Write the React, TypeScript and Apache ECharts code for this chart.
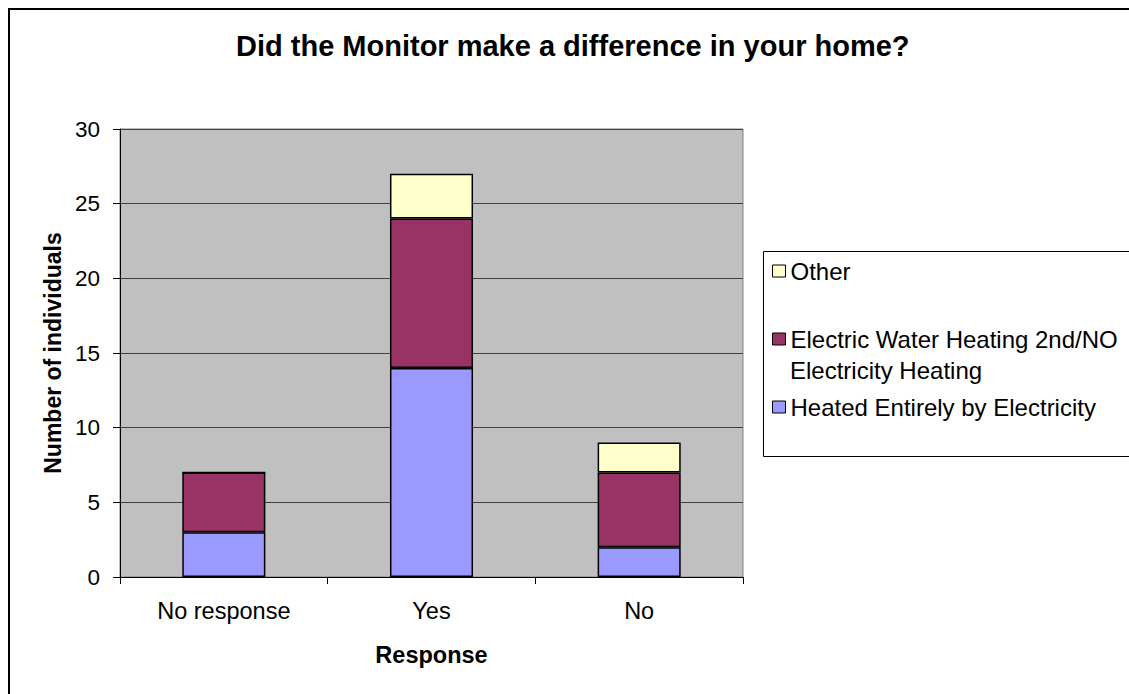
import React, { useEffect, useRef } from "react";
import * as echarts from "echarts";

const categories = ["No response", "Yes", "No"];
const heatedEntirely = [3, 14, 2];
const electricWater = [4, 10, 5];
const other = [0, 3, 2];
const seriesNames = [
  "Heated Entirely by Electricity",
  "Electric Water Heating 2nd/NO Electricity Heating",
  "Other",
];
const seriesColors = ["#9999FF", "#993366", "#FFFFCC"];
const titleText = "Did the Monitor make a difference in your home?";
const yAxisName = "Number of individuals";
const xAxisName = "Response";

const FONT = "'Liberation Sans', Arial, sans-serif";

export default function App() {
  const ref = useRef<HTMLDivElement>(null);
  useEffect(() => {
    if (!ref.current) return;
    const chart = echarts.init(ref.current, undefined, { renderer: "svg" });
    const values = [heatedEntirely, electricWater, other];
    chart.setOption({
      animation: false,
      backgroundColor: "#FFFFFF",
      textStyle: { fontFamily: FONT, color: "#000" },
      title: {
        text: titleText,
        left: 236,
        top: 31,
        padding: 0,
        textStyle: { fontFamily: FONT, fontSize: 29, fontWeight: "bold", color: "#000" },
      },
      grid: {
        left: 120,
        right: 1129 - 743,
        top: 129,
        bottom: 694 - 577,
        show: true,
        backgroundColor: "#C0C0C0",
        borderColor: "#808080",
        borderWidth: 1,
      },
      legend: {
        orient: "vertical",
        left: 772,
        top: 259,
        padding: 0,
        itemWidth: 13,
        itemHeight: 12,
        itemGap: 44,
        icon: "rect",
        data: [seriesNames[2], seriesNames[1], seriesNames[0]],
        formatter: (name: string) =>
          name === seriesNames[1] ? "Electric Water Heating 2nd/NO" : name,
        itemStyle: { borderColor: "#000", borderWidth: 1 },
        textStyle: { fontFamily: FONT, fontSize: 24, color: "#000" },
      },
      xAxis: {
        type: "category",
        data: categories,
        name: xAxisName,
        nameLocation: "middle",
        nameGap: 66,
        nameTextStyle: { fontFamily: FONT, fontSize: 23.5, fontWeight: "bold", color: "#000" },
        axisLine: { lineStyle: { color: "#000", width: 1 } },
        axisTick: { show: true, length: 7, lineStyle: { color: "#000" } },
        axisLabel: { margin: 22, fontFamily: FONT, fontSize: 23.5, color: "#000" },
      },
      yAxis: {
        type: "value",
        min: 0,
        max: 30,
        interval: 5,
        name: yAxisName,
        nameLocation: "middle",
        nameGap: 52,
        nameTextStyle: { fontFamily: FONT, fontSize: 23, fontWeight: "bold", color: "#000" },
        axisLine: { show: true, lineStyle: { color: "#000", width: 1 } },
        axisTick: { show: true, length: 7, lineStyle: { color: "#000" } },
        axisLabel: { margin: 20, fontFamily: FONT, fontSize: 22.5, color: "#000" },
        splitLine: { show: true, lineStyle: { color: "#404040", width: 1 } },
      },
      series: values.map((v, i) => ({
        name: seriesNames[i],
        type: "bar",
        stack: "total",
        data: v,
        barWidth: "40%",
        itemStyle: { color: seriesColors[i], borderColor: "#000", borderWidth: 1.5 },
      })),
      graphic: [
        {
          type: "rect",
          z: -10,
          silent: true,
          shape: { x: 9, y: 9, width: 1300, height: 900 },
          style: { fill: "none", stroke: "#000", lineWidth: 2 },
        },
        {
          type: "rect",
          z: -5,
          silent: true,
          shape: { x: 763.5, y: 251.5, width: 500, height: 205 },
          style: { fill: "#FFFFFF", stroke: "#000", lineWidth: 1 },
        },
        {
          type: "text",
          z: 5,
          silent: true,
          x: 790,
          y: 370,
          style: {
            text: "Electricity Heating",
            fontFamily: FONT,
            fontSize: 24,
            fill: "#000",
            verticalAlign: "middle",
            align: "left",
          },
        },
      ],
    });
    return () => chart.dispose();
  }, []);
  return (
    <div
      ref={ref}
      style={{ position: "absolute", left: 0, top: 0, width: 1129, height: 694 }}
    />
  );
}
